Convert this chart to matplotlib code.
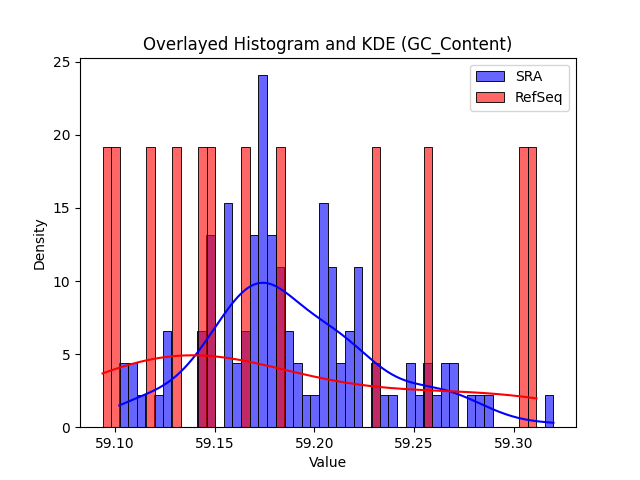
import numpy as np
import matplotlib
matplotlib.use('Agg')
import matplotlib.pyplot as plt
import seaborn as sns

# GC content values (value, how many samples)
sra_values = [59.1023, 59.1045, 59.1088, 59.1132, 59.1219, 59.1262, 59.1436, 59.1480,
              59.1567, 59.1610, 59.1654, 59.1697, 59.1741, 59.1784, 59.1828, 59.1871,
              59.1915, 59.1958, 59.2002, 59.2045, 59.2089, 59.2132, 59.2176, 59.2219,
              59.2306, 59.2350, 59.2393, 59.2480, 59.2524, 59.2567, 59.2611, 59.2654,
              59.2698, 59.2785, 59.2828, 59.2872, 59.3198]
sra_counts = [1, 1, 2, 1, 1, 3, 3, 6,
              7, 2, 3, 6, 11, 6, 5, 3,
              2, 1, 1, 7, 5, 2, 3, 5,
              2, 1, 1, 2, 1, 2, 1, 2,
              2, 1, 1, 1, 1]

refseq_values = [59.0939, 59.1004, 59.1178, 59.1309, 59.1439, 59.1482,
                 59.1656, 59.1830, 59.2309, 59.2569, 59.3048, 59.3113]


def main():
    sra = np.repeat(sra_values, sra_counts)
    refseq = np.array(refseq_values)

    fig, ax = plt.subplots(figsize=(6.4, 4.8), dpi=100)
    sns.histplot(sra, bins=50, stat='density', kde=True, color='blue', alpha=0.6, label='SRA', ax=ax)
    sns.histplot(refseq, bins=50, stat='density', kde=True, color='red', alpha=0.6, label='RefSeq', ax=ax)

    ax.set_title('Overlayed Histogram and KDE (GC_Content)')
    ax.set_xlabel('Value')
    ax.set_ylabel('Density')
    ax.legend()

    fig.savefig('out.png', dpi=100)


if __name__ == '__main__':
    main()
